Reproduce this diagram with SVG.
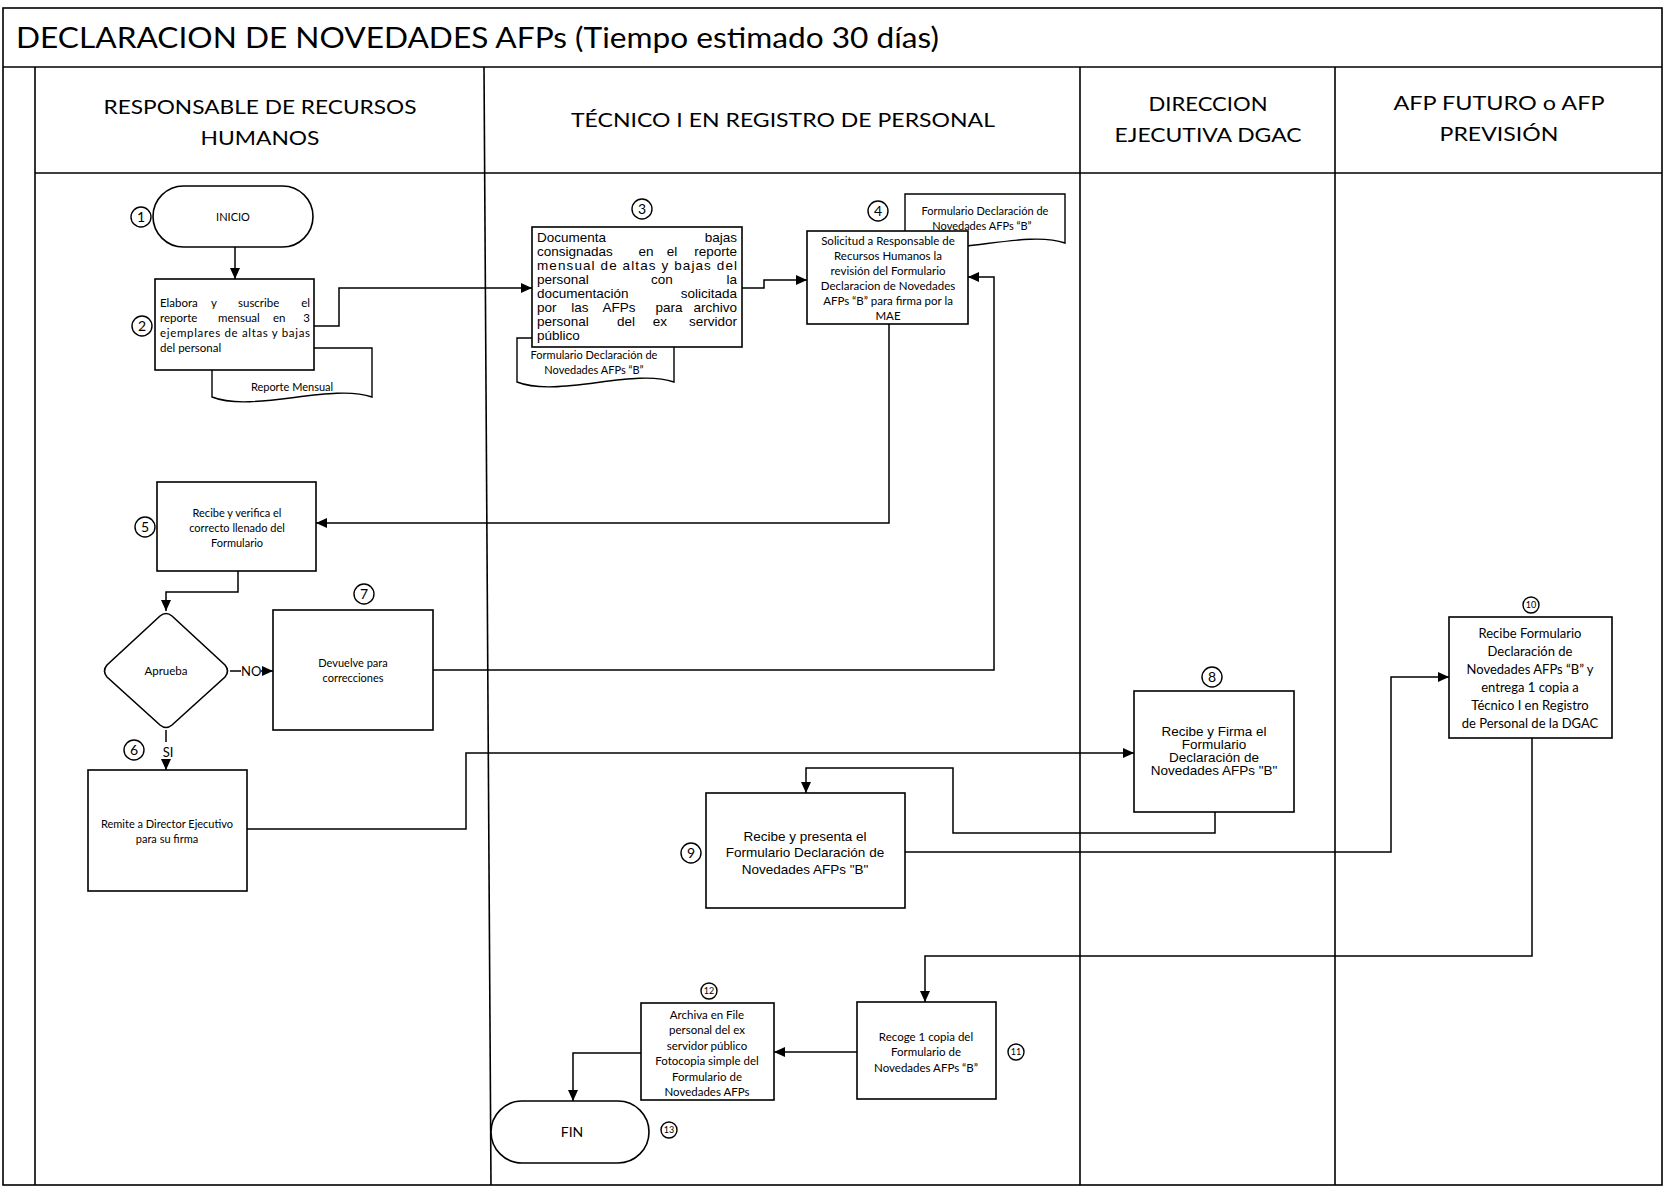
<svg xmlns="http://www.w3.org/2000/svg" width="1664" height="1187" viewBox="0 0 1664 1187">
  <style>
    .frame { fill: none; stroke: #000; stroke-width: 1.6; }
    .box { fill: #fff; stroke: #000; stroke-width: 1.6; }
    .doc { fill: #fff; stroke: #000; stroke-width: 1.4; }
    .num { fill: #fff; stroke: #000; stroke-width: 1.4; }
    .conn { fill: none; stroke: #000; stroke-width: 1.5; }
    .cal { font-family: Lato, "Liberation Sans", sans-serif; fill: #000; }
    .ari { font-family: "Liberation Sans", Arial, sans-serif; fill: #000; }
    .c { text-anchor: middle; }
    .e { text-anchor: end; }
    .title { font-size: 29px; }
    .head { font-size: 20px; text-anchor: middle; }
    .t11 { font-size: 11px; }
    .t115 { font-size: 11.5px; }
    .t13 { font-size: 13px; }
    .a13 { font-size: 13.5px; }
    .n14 { font-size: 14px; text-anchor: middle; }
    .n9 { font-size: 9px; text-anchor: middle; }
  </style>
  <defs>
    <marker id="arrow" markerUnits="userSpaceOnUse" markerWidth="12" markerHeight="10" refX="11" refY="5" orient="auto">
      <path d="M0,0 L11,5 L0,10 Z" fill="#000"/>
    </marker>
  </defs>

  <rect x="0" y="0" width="1664" height="1187" fill="#fff"/>

  <!-- swimlane frame -->
  <g id="frame">
    <rect class="frame" x="3" y="8" width="1659" height="1177"/>
    <line class="frame" x1="3" y1="67" x2="1662" y2="67"/>
    <line class="frame" x1="35" y1="67" x2="35" y2="1185"/>
    <line class="frame" x1="35" y1="173" x2="1662" y2="173"/>
    <line class="frame" x1="484" y1="67" x2="491" y2="1185"/>
    <line class="frame" x1="1080" y1="67" x2="1080" y2="1185"/>
    <line class="frame" x1="1335" y1="67" x2="1335" y2="1185"/>
    <text class="cal title" x="16" y="48" textLength="923" lengthAdjust="spacingAndGlyphs">DECLARACION DE NOVEDADES AFPs (Tiempo estimado 30 días)</text>
    <text class="cal head" x="260" y="114" textLength="313" lengthAdjust="spacingAndGlyphs">RESPONSABLE DE RECURSOS</text>
    <text class="cal head" x="260" y="145" textLength="119" lengthAdjust="spacingAndGlyphs">HUMANOS</text>
    <text class="cal head" x="783" y="127" textLength="424" lengthAdjust="spacingAndGlyphs">TÉCNICO I EN REGISTRO DE PERSONAL</text>
    <text class="cal head" x="1208" y="111" textLength="119" lengthAdjust="spacingAndGlyphs">DIRECCION</text>
    <text class="cal head" x="1208" y="142" textLength="187" lengthAdjust="spacingAndGlyphs">EJECUTIVA DGAC</text>
    <text class="cal head" x="1499" y="110" textLength="211" lengthAdjust="spacingAndGlyphs">AFP FUTURO o AFP</text>
    <text class="cal head" x="1499" y="141" textLength="119" lengthAdjust="spacingAndGlyphs">PREVISIÓN</text>
  </g>

  <!-- connectors -->
  <g id="connectors">
    <path class="conn" d="M235,247 V279" marker-end="url(#arrow)"/>
    <path class="conn" d="M314,326 H339 V288 H532" marker-end="url(#arrow)"/>
    <path class="conn" d="M742,288 H764 V280 H807" marker-end="url(#arrow)"/>
    <path class="conn" d="M889,324 V523 H316" marker-end="url(#arrow)"/>
    <path class="conn" d="M238,571 V592 H166 V611" marker-end="url(#arrow)"/>
    <path class="conn" d="M230,671 H241"/>
    <path class="conn" d="M261,671 H273" marker-end="url(#arrow)"/>
    <text class="cal t13" x="241" y="676">NO</text>
    <path class="conn" d="M166,730 V742"/>
    <text class="cal t13 c" x="168" y="757">SI</text>
    <path class="conn" d="M166,760 V770" marker-end="url(#arrow)"/>
    <path class="conn" d="M433,670 H994 V277 H968" marker-end="url(#arrow)"/>
    <path class="conn" d="M247,829 H466 V753 H1134" marker-end="url(#arrow)"/>
    <path class="conn" d="M1215,812 V833 H953 V768 H806 V793" marker-end="url(#arrow)"/>
    <path class="conn" d="M905,852 H1391 V677 H1449" marker-end="url(#arrow)"/>
    <path class="conn" d="M1532,738 V956 H925 V1002" marker-end="url(#arrow)"/>
    <path class="conn" d="M857,1052 H774" marker-end="url(#arrow)"/>
    <path class="conn" d="M641,1053 H573 V1101" marker-end="url(#arrow)"/>
  </g>

  <!-- 1 INICIO -->
  <g id="n1-inicio">
    <rect class="box" x="153" y="186" width="160" height="61" rx="30.5"/>
    <text class="cal t11 c" x="233" y="221">INICIO</text>
    <circle class="num" cx="141" cy="217" r="10"/>
    <text class="cal n14" x="141" y="222">1</text>
  </g>

  <!-- Reporte Mensual document -->
  <g id="doc-reporte">
    <path class="doc" d="M212,348 H372 V397 C332,383 252,413 212,397 Z"/>
    <text class="cal t11 c" x="292" y="391">Reporte Mensual</text>
  </g>

  <!-- 2 Elabora -->
  <g id="n2-elabora">
    <rect class="box" x="155" y="279" width="159" height="91"/>
    <text class="cal t115" y="307"><tspan x="160">Elabora</tspan><tspan x="211">y</tspan><tspan x="238">suscribe</tspan><tspan x="310" text-anchor="end">el</tspan></text>
    <text class="cal t115" y="322"><tspan x="160">reporte</tspan><tspan x="218">mensual</tspan><tspan x="273">en</tspan><tspan x="310" text-anchor="end">3</tspan></text>
    <text class="cal t115" x="160" y="337" textLength="150" lengthAdjust="spacing">ejemplares de altas y bajas</text>
    <text class="cal t115" x="160" y="352">del personal</text>
    <circle class="num" cx="142" cy="326" r="10"/>
    <text class="cal n14" x="142" y="331">2</text>
  </g>

  <!-- Formulario document under step 3 -->
  <g id="doc-form-3">
    <path class="doc" d="M517,338 H674 V382 C634,368 557,398 517,382 Z"/>
    <text class="cal t11 c" x="594" y="359">Formulario Declaración de</text>
    <text class="cal t11 c" x="594" y="374">Novedades AFPs “B”</text>
  </g>

  <!-- 3 Documenta -->
  <g id="n3-documenta">
    <rect class="box" x="532" y="227" width="210" height="120"/>
    <text class="ari a13" y="242"><tspan x="537">Documenta</tspan><tspan x="737" text-anchor="end">bajas</tspan></text>
    <text class="ari a13" y="256"><tspan x="537">consignadas</tspan><tspan x="646" text-anchor="middle">en</tspan><tspan x="672" text-anchor="middle">el</tspan><tspan x="737" text-anchor="end">reporte</tspan></text>
    <text class="ari a13" x="537" y="270" textLength="200" lengthAdjust="spacing">mensual de altas y bajas del</text>
    <text class="ari a13" y="284"><tspan x="537">personal</tspan><tspan x="662" text-anchor="middle">con</tspan><tspan x="737" text-anchor="end">la</tspan></text>
    <text class="ari a13" y="298"><tspan x="537">documentación</tspan><tspan x="737" text-anchor="end">solicitada</tspan></text>
    <text class="ari a13" y="312"><tspan x="537">por</tspan><tspan x="580" text-anchor="middle">las</tspan><tspan x="619" text-anchor="middle">AFPs</tspan><tspan x="669" text-anchor="middle">para</tspan><tspan x="737" text-anchor="end">archivo</tspan></text>
    <text class="ari a13" y="326"><tspan x="537">personal</tspan><tspan x="626" text-anchor="middle">del</tspan><tspan x="660" text-anchor="middle">ex</tspan><tspan x="737" text-anchor="end">servidor</tspan></text>
    <text class="ari a13" x="537" y="340">público</text>
    <circle class="num" cx="642" cy="209" r="10"/>
    <text class="cal n14" x="642" y="214">3</text>
  </g>

  <!-- Formulario document beside step 4 -->
  <g id="doc-form-4">
    <path class="doc" d="M905,194 H1065 V243 C1025,229 945,259 905,243 Z"/>
    <text class="cal t11 c" x="985" y="215">Formulario Declaración de</text>
    <text class="cal t11 c" x="982" y="230">Novedades AFPs “B”</text>
  </g>

  <!-- 4 Solicitud -->
  <g id="n4-solicitud">
    <rect class="box" x="807" y="231" width="161" height="93"/>
    <text class="cal t115 c" x="888" y="245">Solicitud a Responsable de</text>
    <text class="cal t115 c" x="888" y="260">Recursos Humanos la</text>
    <text class="cal t115 c" x="888" y="275">revisión del Formulario</text>
    <text class="cal t115 c" x="888" y="290">Declaracion de Novedades</text>
    <text class="cal t115 c" x="888" y="305">AFPs “B” para firma por la</text>
    <text class="cal t115 c" x="888" y="320">MAE</text>
    <circle class="num" cx="878" cy="211" r="10"/>
    <text class="cal n14" x="878" y="216">4</text>
  </g>

  <!-- 5 Recibe y verifica -->
  <g id="n5-verifica">
    <rect class="box" x="157" y="482" width="159" height="89"/>
    <text class="cal t11 c" x="237" y="517">Recibe y verifica el</text>
    <text class="cal t11 c" x="237" y="532">correcto llenado del</text>
    <text class="cal t11 c" x="237" y="547">Formulario</text>
    <circle class="num" cx="145" cy="527" r="10"/>
    <text class="cal n14" x="145" y="532">5</text>
  </g>

  <!-- decision Aprueba -->
  <g id="d-aprueba">
    <path class="box" d="M160,616 Q166,611 172,616 L225,665 Q230,671 225,677 L172,725 Q166,730 160,725 L107,677 Q102,671 107,665 Z"/>
    <text class="cal t115 c" x="166" y="675">Aprueba</text>
  </g>

  <!-- 7 Devuelve -->
  <g id="n7-devuelve">
    <rect class="box" x="273" y="610" width="160" height="120"/>
    <text class="cal t11 c" x="353" y="667">Devuelve para</text>
    <text class="cal t11 c" x="353" y="682">correcciones</text>
    <circle class="num" cx="364" cy="594" r="10"/>
    <text class="cal n14" x="364" y="599">7</text>
  </g>

  <!-- 6 Remite -->
  <g id="n6-remite">
    <rect class="box" x="88" y="770" width="159" height="121"/>
    <text class="cal t11 c" x="167" y="828">Remite a Director Ejecutivo</text>
    <text class="cal t11 c" x="167" y="843">para su firma</text>
    <circle class="num" cx="134" cy="750" r="10"/>
    <text class="cal n14" x="134" y="755">6</text>
  </g>

  <!-- 8 Recibe y Firma -->
  <g id="n8-firma">
    <rect class="box" x="1134" y="691" width="160" height="121"/>
    <text class="ari a13 c" x="1214" y="736">Recibe y Firma el</text>
    <text class="ari a13 c" x="1214" y="749">Formulario</text>
    <text class="ari a13 c" x="1214" y="762">Declaración de</text>
    <text class="ari a13 c" x="1214" y="775">Novedades AFPs "B"</text>
    <circle class="num" cx="1212" cy="677" r="10"/>
    <text class="cal n14" x="1212" y="682">8</text>
  </g>

  <!-- 9 Recibe y presenta -->
  <g id="n9-presenta">
    <rect class="box" x="706" y="793" width="199" height="115"/>
    <text class="ari a13 c" x="805" y="841">Recibe y presenta el</text>
    <text class="ari a13 c" x="805" y="857">Formulario Declaración de</text>
    <text class="ari a13 c" x="805" y="874">Novedades AFPs "B"</text>
    <circle class="num" cx="691" cy="853" r="10"/>
    <text class="cal n14" x="691" y="858">9</text>
  </g>

  <!-- 10 Recibe Formulario (AFP) -->
  <g id="n10-afp">
    <rect class="box" x="1449" y="617" width="163" height="121"/>
    <text class="cal t13 c" x="1530" y="638">Recibe Formulario</text>
    <text class="cal t13 c" x="1530" y="656">Declaración de</text>
    <text class="cal t13 c" x="1530" y="674">Novedades AFPs “B” y</text>
    <text class="cal t13 c" x="1530" y="692">entrega 1 copia a</text>
    <text class="cal t13 c" x="1530" y="710">Técnico I en Registro</text>
    <text class="cal t13 c" x="1530" y="728">de Personal de la DGAC</text>
    <circle class="num" cx="1531" cy="605" r="8"/>
    <text class="cal n9" x="1531" y="608">10</text>
  </g>

  <!-- 11 Recoge copia -->
  <g id="n11-recoge">
    <rect class="box" x="857" y="1002" width="139" height="97"/>
    <text class="cal t115 c" x="926" y="1041">Recoge 1 copia del</text>
    <text class="cal t115 c" x="926" y="1056">Formulario de</text>
    <text class="cal t115 c" x="926" y="1072">Novedades AFPs “B”</text>
    <circle class="num" cx="1016" cy="1052" r="8"/>
    <text class="cal n9" x="1016" y="1055">11</text>
  </g>

  <!-- 12 Archiva -->
  <g id="n12-archiva">
    <rect class="box" x="641" y="1003" width="133" height="97"/>
    <text class="cal t115 c" x="707" y="1019">Archiva en File</text>
    <text class="cal t115 c" x="707" y="1034">personal del ex</text>
    <text class="cal t115 c" x="707" y="1050">servidor público</text>
    <text class="cal t115 c" x="707" y="1065">Fotocopia simple del</text>
    <text class="cal t115 c" x="707" y="1081">Formulario de</text>
    <text class="cal t115 c" x="707" y="1096">Novedades AFPs</text>
    <circle class="num" cx="709" cy="991" r="8"/>
    <text class="cal n9" x="709" y="994">12</text>
  </g>

  <!-- 13 FIN -->
  <g id="n13-fin">
    <rect class="box" x="491" y="1101" width="158" height="62" rx="31"/>
    <text class="cal c" font-size="14" x="572" y="1137">FIN</text>
    <circle class="num" cx="669" cy="1130" r="8"/>
    <text class="cal n9" x="669" y="1133">13</text>
  </g>
</svg>
